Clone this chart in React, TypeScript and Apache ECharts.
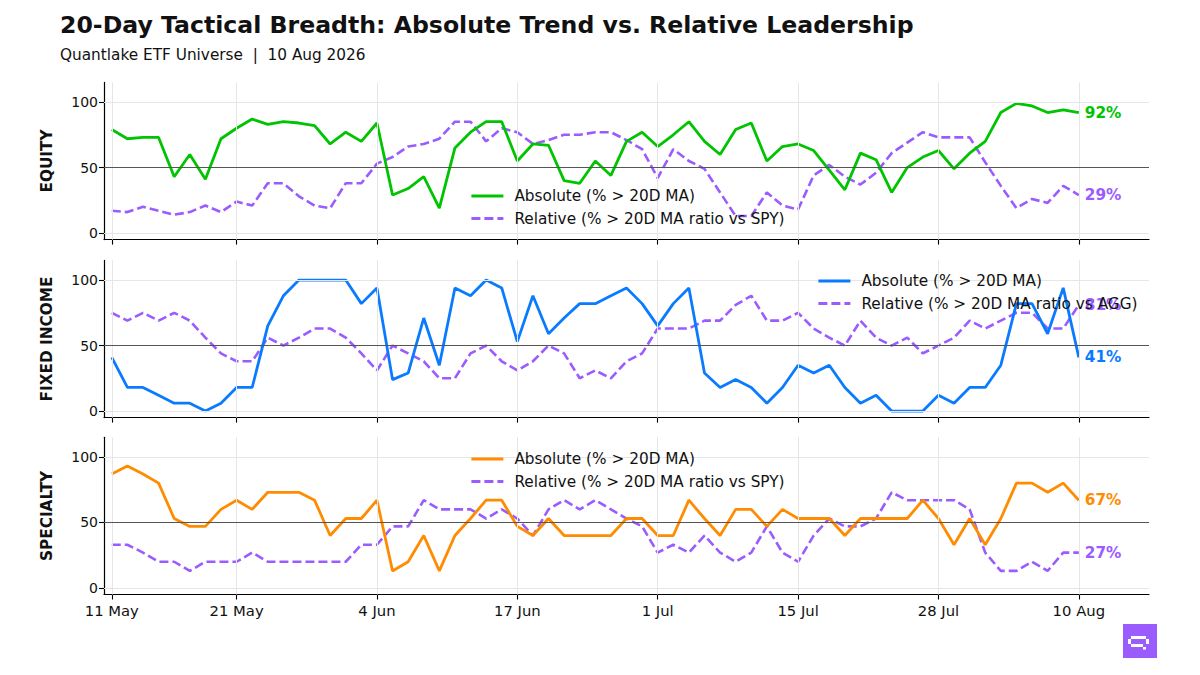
import React, { useEffect, useRef } from "react";
import * as echarts from "echarts";

// ---------- data ----------
const dates = [
  "2026-05-11","2026-05-12","2026-05-13","2026-05-14","2026-05-15","2026-05-18","2026-05-19","2026-05-20","2026-05-21","2026-05-22",
  "2026-05-26","2026-05-27","2026-05-28","2026-05-29","2026-06-01","2026-06-02","2026-06-03","2026-06-04","2026-06-05","2026-06-08",
  "2026-06-09","2026-06-10","2026-06-11","2026-06-12","2026-06-15","2026-06-16","2026-06-17","2026-06-18","2026-06-22","2026-06-23",
  "2026-06-24","2026-06-25","2026-06-26","2026-06-29","2026-06-30","2026-07-01","2026-07-02","2026-07-06","2026-07-07","2026-07-08",
  "2026-07-09","2026-07-10","2026-07-13","2026-07-14","2026-07-15","2026-07-16","2026-07-17","2026-07-20","2026-07-21","2026-07-22",
  "2026-07-23","2026-07-24","2026-07-27","2026-07-28","2026-07-29","2026-07-30","2026-07-31","2026-08-03","2026-08-04","2026-08-05",
  "2026-08-06","2026-08-07","2026-08-10",
];
const tickDates = ["2026-05-11","2026-05-21","2026-06-04","2026-06-17","2026-07-01","2026-07-15","2026-07-28","2026-08-10"];
const tickLabels = ["11 May","21 May","4 Jun","17 Jun","1 Jul","15 Jul","28 Jul","10 Aug"];
const yTicks = [0, 50, 100];

const eqAbs = [79,72,73,73,43,60,41,72,80,87, 83,85,84,82,68,77,70,84,29,34, 43,19,65,77,85,85,55,68,67,40, 38,55,44,70,77,66,75,85,70,60, 79,84,55,66,68,63,48,33,61,56, 31,50,58,63,49,61,70,92,99,97, 92,94,92];
const eqRel = [17,16,20,17,14,16,21,16,24,21, 38,38,28,21,19,38,38,53,58,66, 68,72,85,85,70,80,77,68,71,75, 75,77,77,71,64,42,64,55,49,31, 13,13,31,21,18,44,52,43,37,46, 61,69,77,73,73,73,54,36,19,26, 23,36,29];
const fiAbs = [41,18,18,12,6,6,0,6,18,18, 65,88,100,100,100,100,82,94,24,29, 71,35,94,88,100,94,53,88,59,71, 82,82,88,94,82,65,82,94,29,18, 24,18,6,18,35,29,35,18,6,12, 0,0,0,12,6,18,18,35,82,82, 59,94,41];
const fiRel = [75,69,75,69,75,69,56,44,38,38, 56,50,56,63,63,56,44,31,50,44, 38,25,25,44,50,38,31,38,50,44, 25,31,25,38,44,63,63,63,69,69, 81,88,69,69,75,63,56,50,69,56, 50,56,44,50,56,69,63,69,75,75, 63,63,81];
const spAbs = [87,93,87,80,53,47,47,60,67,60, 73,73,73,67,40,53,53,67,13,20, 40,13,40,53,67,67,47,40,53,40, 40,40,40,53,53,40,40,67,53,40, 60,60,47,60,53,53,53,40,53,53, 53,53,67,53,33,53,33,53,80,80, 73,80,67];
const spRel = [33,33,27,20,20,13,20,20,20,27, 20,20,20,20,20,20,33,33,47,47, 67,60,60,60,53,60,53,40,60,67, 60,67,60,53,47,27,33,27,40,27, 20,27,47,27,20,40,53,47,47,53, 73,67,67,67,67,60,27,13,13,20, 13,27,27];

const panelNames = ["EQUITY", "FIXED INCOME", "SPECIALTY"];
const absName = "Absolute (% > 20D MA)";
const relNames = [
  "Relative (% > 20D MA ratio vs SPY)",
  "Relative (% > 20D MA ratio vs AGG)",
  "Relative (% > 20D MA ratio vs SPY)",
];

// ---------- styling ----------
const FONT = "'DejaVu Sans', Verdana, sans-serif";
const GREEN = "#00C400";
const BLUE = "#0A7BFF";
const ORANGE = "#FF8C00";
const PURPLE = "#9B5CFF";
const absColors = [GREEN, BLUE, ORANGE];
const gridTops = [82.4, 260.4, 437.3];
const gridH = 157.2;
const legendPos = [
  { left: 470, top: 188.5 },
  { left: 817, top: 273.5 },
  { left: 470, top: 451.5 },
];

export default function App() {
  const ref = useRef<HTMLDivElement>(null);

  useEffect(() => {
    document.body.style.margin = "0";
    if (!ref.current) return;
    const chart = echarts.init(ref.current, undefined, { renderer: "svg" });

    const tickIdx = tickDates.map((d) => dates.indexOf(d));
    const absSets = [eqAbs, fiAbs, spAbs];
    const relSets = [eqRel, fiRel, spRel];
    const keys = ["EQ", "FI", "SP"];
    const displayName: Record<string, string> = {};

    const grid: any[] = [];
    const xAxis: any[] = [];
    const yAxis: any[] = [];
    const series: any[] = [];
    const legend: any[] = [];

    panelNames.forEach((pn, k) => {
      grid.push({ left: 104, width: 1045, top: gridTops[k], height: gridH });
      xAxis.push({
        type: "value",
        gridIndex: k,
        min: -0.5,
        max: 66.5,
        axisLine: { show: true, onZero: false, lineStyle: { color: "#000", width: 1.2 } },
        axisTick: { show: true, customValues: tickIdx, length: 5, lineStyle: { color: "#000", width: 1.1 } },
        axisLabel: {
          show: k === 2,
          customValues: tickIdx,
          formatter: (v: number) => tickLabels[tickIdx.indexOf(Math.round(v))] ?? "",
          fontSize: 14.8,
          color: "#111",
          fontFamily: FONT,
          margin: 8,
        },
        splitLine: { show: false },
      });
      yAxis.push({
        type: "value",
        gridIndex: k,
        min: -5,
        max: 115,
        name: pn,
        nameLocation: "middle",
        nameRotate: 90,
        nameGap: 50,
        nameTextStyle: { fontWeight: "bold", fontSize: 15.3, color: "#111", fontFamily: FONT },
        axisLine: { show: true, onZero: false, lineStyle: { color: "#000", width: 1.2 } },
        axisTick: { show: true, customValues: yTicks, length: 5, lineStyle: { color: "#000", width: 1.1 } },
        axisLabel: { customValues: yTicks, fontSize: 14, color: "#111", fontFamily: FONT, margin: 6 },
        splitLine: { show: false },
      });

      const gl = { color: "#e6e6e6", width: 1, type: "solid" };
      series.push({
        name: keys[k] + "_GRID",
        type: "line",
        xAxisIndex: k,
        yAxisIndex: k,
        data: [],
        symbol: "none",
        silent: true,
        z: 1,
        markLine: {
          silent: true,
          symbol: ["none", "none"],
          label: { show: false },
          animation: false,
          data: [
            ...tickIdx.map((i) => ({ xAxis: i, lineStyle: gl })),
            { yAxis: 0, lineStyle: gl },
            { yAxis: 100, lineStyle: gl },
            { yAxis: 50, lineStyle: { color: "#555", width: 1.1, type: "solid" } },
          ],
        },
      });

      const absKey = keys[k] + "_ABS";
      const relKey = keys[k] + "_REL";
      displayName[absKey] = absName;
      displayName[relKey] = relNames[k];

      series.push({
        name: relKey,
        type: "line",
        xAxisIndex: k,
        yAxisIndex: k,
        data: relSets[k].map((v, i) => [i, v]),
        symbol: "none",
        z: 3,
        lineStyle: { color: PURPLE, width: 2.6, type: [9, 4] },
        itemStyle: { color: PURPLE },
        endLabel: {
          show: true,
          formatter: (p: any) => Math.round(p.value[1]) + "%",
          color: PURPLE,
          fontWeight: "bold",
          fontSize: 15.3,
          fontFamily: FONT,
          distance: 6,
        },
      });
      series.push({
        name: absKey,
        type: "line",
        xAxisIndex: k,
        yAxisIndex: k,
        data: absSets[k].map((v, i) => [i, v]),
        symbol: "none",
        z: 4,
        lineStyle: { color: absColors[k], width: 2.8 },
        itemStyle: { color: absColors[k] },
        endLabel: {
          show: true,
          formatter: (p: any) => Math.round(p.value[1]) + "%",
          color: absColors[k],
          fontWeight: "bold",
          fontSize: 15.3,
          fontFamily: FONT,
          distance: 6,
        },
      });

      legend.push({
        orient: "vertical",
        left: legendPos[k].left,
        top: legendPos[k].top,
        padding: 0,
        itemWidth: 32,
        itemHeight: 16,
        itemGap: 7.5,
        selectedMode: false,
        itemStyle: { opacity: 0 },
        lineStyle: { width: 2.8 },
        data: [absKey, relKey],
        formatter: (n: string) => displayName[n] ?? n,
        textStyle: { fontSize: 15.3, color: "#111", fontFamily: FONT, padding: [0, 0, 0, 6] },
        z: 10,
      });
    });

    const option: any = {
      animation: false,
      backgroundColor: "#ffffff",
      title: [
        {
          text: "20-Day Tactical Breadth: Absolute Trend vs. Relative Leadership",
          left: 60,
          top: 13,
          padding: 0,
          textStyle: { fontSize: 23.6, fontWeight: "bold", color: "#111", fontFamily: FONT },
        },
        {
          text: "Quantlake ETF Universe  |  10 Aug 2026",
          left: 60,
          top: 47.5,
          padding: 0,
          textStyle: { fontSize: 15.3, fontWeight: "normal", color: "#111", fontFamily: FONT },
        },
      ],
      grid,
      xAxis,
      yAxis,
      legend,
      series,
      graphic: [
        { type: "rect", shape: { x: 1123, y: 624, width: 34, height: 34 }, style: { fill: PURPLE } },
        { type: "rect", shape: { x: 1131, y: 636, width: 15, height: 3 }, style: { fill: "#fff" } },
        { type: "rect", shape: { x: 1128, y: 639, width: 3, height: 5 }, style: { fill: "#fff" } },
        { type: "rect", shape: { x: 1146, y: 639, width: 3, height: 5 }, style: { fill: "#fff" } },
        { type: "rect", shape: { x: 1131, y: 644, width: 12, height: 3 }, style: { fill: "#fff" } },
        { type: "rect", shape: { x: 1143, y: 647, width: 3, height: 2.5 }, style: { fill: "#fff" } },
      ],
    };

    chart.setOption(option);
    return () => chart.dispose();
  }, []);

  return <div ref={ref} style={{ width: 1200, height: 675 }} />;
}
